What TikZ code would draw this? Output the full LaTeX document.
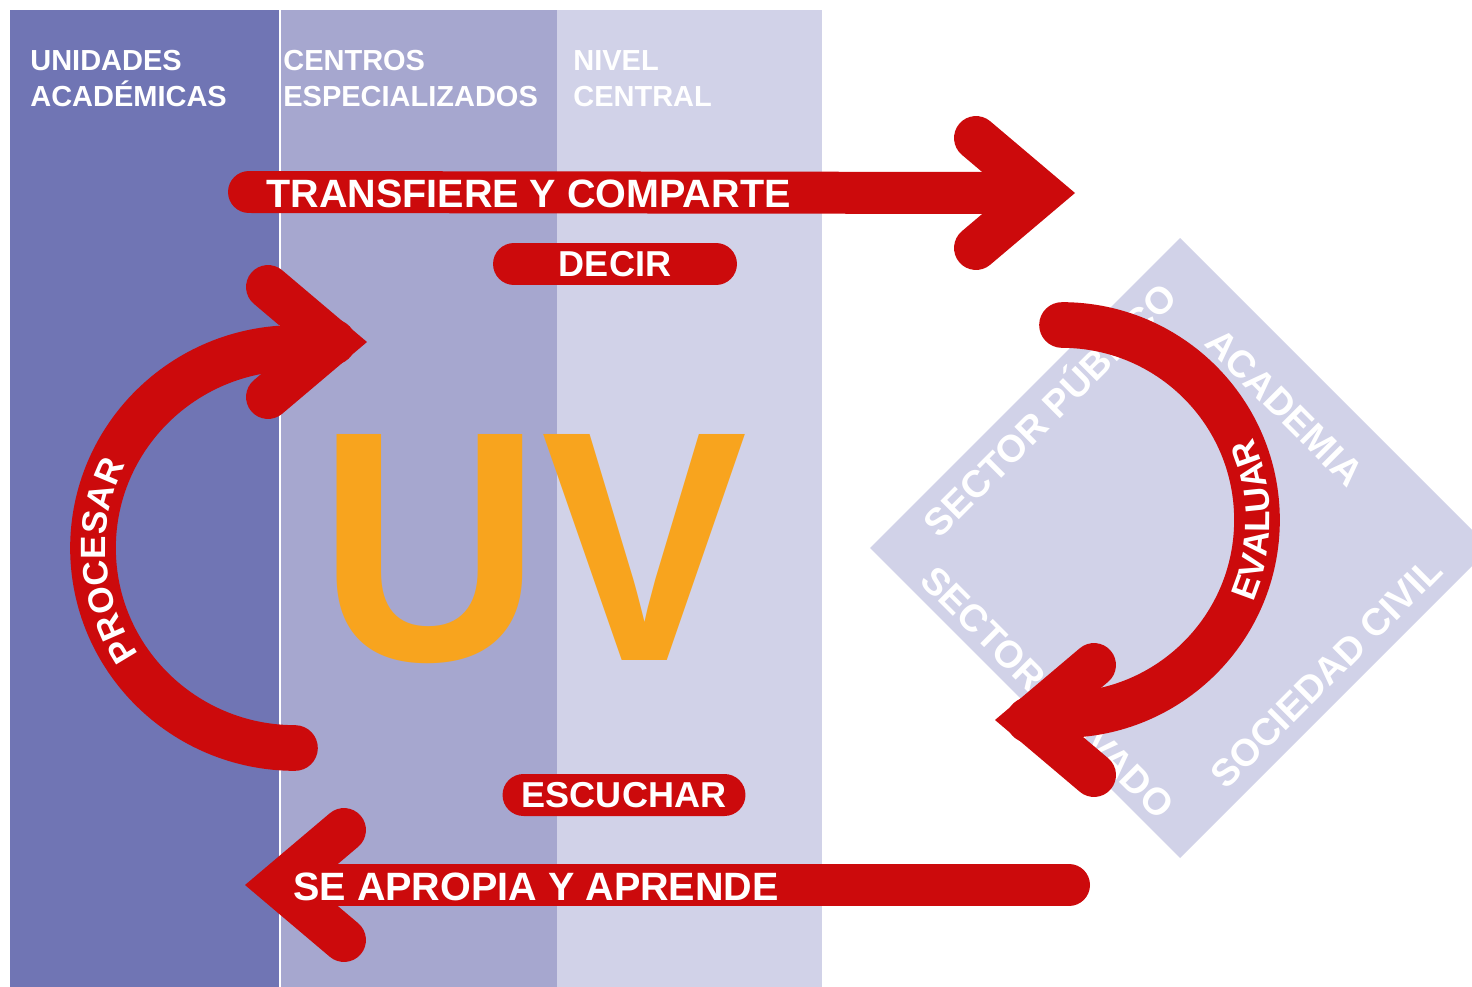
\documentclass[tikz,border=0pt]{standalone}
\usepackage{fontspec}
\setmainfont{Liberation Sans}
\usetikzlibrary{decorations.text}
\definecolor{colA}{RGB}{112,117,180}
\definecolor{colB}{RGB}{166,167,207}
\definecolor{colC}{RGB}{209,210,232}
\definecolor{uvred}{RGB}{204,10,12}
\definecolor{uvorange}{RGB}{248,164,30}
\newcommand\myarcfont{\bfseries\fontsize{20}{20}\selectfont}
\newcommand\chevron[4]{%
  \begin{scope}[shift={(#2,#3)}, rotate=#4]
    \coordinate (#1) at (-34,0);
    \draw[chev] (-99,-55) -- (-34,0) -- (-99,55);
  \end{scope}}
\begin{document}
\begin{tikzpicture}[x=0.02cm, y=-0.02cm,
  chev/.style={draw=uvred, line width=25pt, line cap=round, line join=miter},
  bar/.style={draw=uvred, line width=23.9pt, line cap=round},
  arcband/.style={draw=uvred, line width=26pt, line cap=round},
  head/.style={text=white, font=\bfseries\fontsize{16.5}{16.5}\selectfont, anchor=base west, inner sep=0pt},
  bartext/.style={text=white, font=\bfseries\fontsize{22.5}{22.5}\selectfont, anchor=base west, inner sep=0pt},
  pill/.style={fill=uvred, text=white, font=\bfseries\fontsize{20.5}{20.5}\selectfont, rounded corners=0.42cm, minimum height=0.84cm, text height=14.7pt, text depth=0pt, inner sep=0pt},
  sector/.style={text=white, font=\bfseries\fontsize{21.6}{21.6}\selectfont, text height=15.5pt, text depth=0pt, inner sep=0pt},
]
\useasboundingbox (0,0) rectangle (1472,987);
\clip (0,0) rectangle (1472,987);
\fill[white] (0,0) rectangle (1472,987);
% columns
\fill[colA] (10,10) rectangle (279,987);
\fill[colB] (281,10) rectangle (557,987);
\fill[colC] (557,10) rectangle (822,987);
% headers
\node[head] (h1a) at (30,71) {UNIDADES};
\node[head] (h1b) at (30,106) {ACADÉMICAS};
\node[head] (h2a) at (283,71) {CENTROS};
\node[head] (h2b) at (283,106) {ESPECIALIZADOS};
\node[head] (h3a) at (573,71) {NIVEL};
\node[head] (h3b) at (573,106) {CENTRAL};
% diamond
\fill[colC] (1180,238) -- (1490,548) -- (1180,858) -- (870,548) -- cycle;
\node[sector, rotate=45] (spub) at (1050,410) {SECTOR PÚBLICO};
\node[sector, rotate=-45] (acad) at (1285,407) {ACADEMIA};
\node[sector, rotate=-45] (spriv) at (1048,692) {SECTOR PRIVADO};
\node[sector, rotate=45] (scivil) at (1326,672) {SOCIEDAD CIVIL};
% UV
\node[anchor=base west, inner sep=0pt, text=uvorange, font=\bfseries\fontsize{187}{187}\selectfont] (uv) at (318,660) {\scalebox{0.94}[1]{UV}};
% top arrow
\coordinate (t0) at (249,192);
\chevron{tv}{1075}{193}{0}
\draw[bar] (t0) -- (tv);
\node[bartext] (transf) at (266,207) {TRANSFIERE Y COMPARTE};
% bottom arrow
\coordinate (b0) at (1069,885);
\chevron{bv}{245}{885}{180}
\draw[bar] (b0) -- (bv);
\node[bartext] (apropia) at (293,900) {SE APROPIA Y APRENDE};
% pills
\node[pill, minimum width=4.88cm] (decir) at (615,264) {DECIR};
\node[pill, minimum width=4.86cm] (escuchar) at (624,795) {ESCUCHAR};
% procesar arc
\chevron{pv}{367}{342}{0}
\coordinate (p0) at (295,748);
\draw[arcband] (p0) arc[start angle=90, end angle=270, x radius=202, y radius=200] -- (pv);
\path (295,548) ++(116:189 and 187) coordinate (ps);
\path[decorate, decoration={text along path, text={|\myarcfont|PROCESAR}, text align=center, text color=white}]
  (ps) arc[start angle=116, end angle=236, x radius=189, y radius=187];
% evaluar arc
\chevron{ev}{995}{720}{180}
\coordinate (e0) at (1062,325);
\draw[arcband] (e0) arc[start angle=-90, end angle=90, radius=195] -- (ev);
\path (1062,520) ++(60:208) coordinate (es);
\path[decorate, decoration={text along path, text={|\myarcfont|EVALUAR}, text align=center, text color=white}]
  (es) arc[start angle=60, end angle=-60, radius=208];
\end{tikzpicture}
\end{document}
